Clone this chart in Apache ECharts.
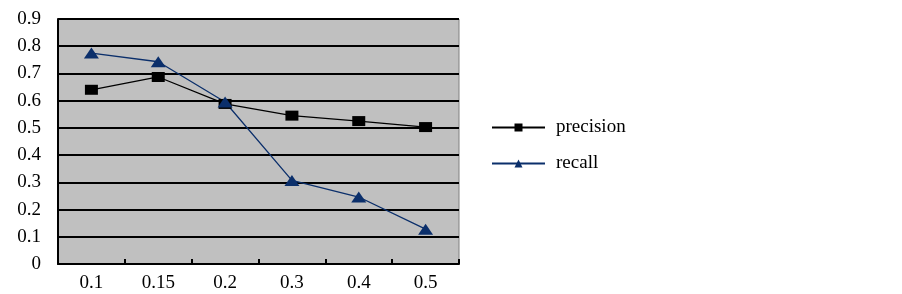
<!DOCTYPE html>
<html>
<head>
<meta charset="utf-8">
<script src="https://cdn.jsdelivr.net/npm/echarts@6/dist/echarts.min.js"></script>
<style>
  html, body { margin: 0; padding: 0; background: #fff; }
  #chart { width: 902px; height: 294px; }
</style>
</head>
<body>
<div id="chart"></div>
<script>
// thresholds on the x axis
const categories = ["0.1", "0.15", "0.2", "0.3", "0.4", "0.5"];
const precision = [0.64, 0.687, 0.588, 0.545, 0.525, 0.503];
const recall = [0.775, 0.743, 0.595, 0.307, 0.246, 0.128];

const chart = echarts.init(document.getElementById("chart"), null, { renderer: "canvas" });

const serif = "'Liberation Serif', 'DejaVu Serif', serif";

chart.setOption({
  animation: false,
  grid: {
    left: 58, right: 443, top: 19, bottom: 30,
    show: true,
    backgroundColor: "#c0c0c0",
    borderColor: "#808080",
    borderWidth: 1
  },
  legend: {
    orient: "vertical",
    left: 486,
    top: 113,
    itemWidth: 53,
    itemHeight: 10,
    itemGap: 17,
    textStyle: { fontFamily: serif, fontSize: 19, color: "#000", padding: [0, 0, 0, 6] },
    data: ["precision", "recall"]
  },
  xAxis: {
    type: "category",
    data: categories,
    boundaryGap: true,
    axisLine: { lineStyle: { color: "#000", width: 2 } },
    axisTick: { show: true, inside: true, length: 5, lineStyle: { color: "#000", width: 2 } },
    axisLabel: { fontFamily: serif, fontSize: 19, color: "#000", margin: 10 },
    splitLine: { show: false }
  },
  yAxis: {
    type: "value",
    min: 0,
    max: 0.9,
    interval: 0.1,
    axisLine: { show: true, lineStyle: { color: "#000", width: 2 } },
    axisTick: { show: false },
    axisLabel: {
      fontFamily: serif, fontSize: 19, color: "#000", margin: 17,
      formatter: (v) => (v === 0 ? "0" : v.toFixed(1))
    },
    splitLine: { show: true, lineStyle: { color: "#000", width: 2 } }
  },
  series: [
    {
      name: "precision",
      type: "line",
      data: precision,
      symbol: "rect",
      symbolSize: [13, 10],
      lineStyle: { color: "#000", width: 1.3 },
      itemStyle: { color: "#000" }
    },
    {
      name: "recall",
      type: "line",
      data: recall,
      symbol: "triangle",
      symbolSize: [15, 11],
      lineStyle: { color: "#0b2f6b", width: 1.3 },
      itemStyle: { color: "#0b2f6b" }
    }
  ]
});
</script>
</body>
</html>
